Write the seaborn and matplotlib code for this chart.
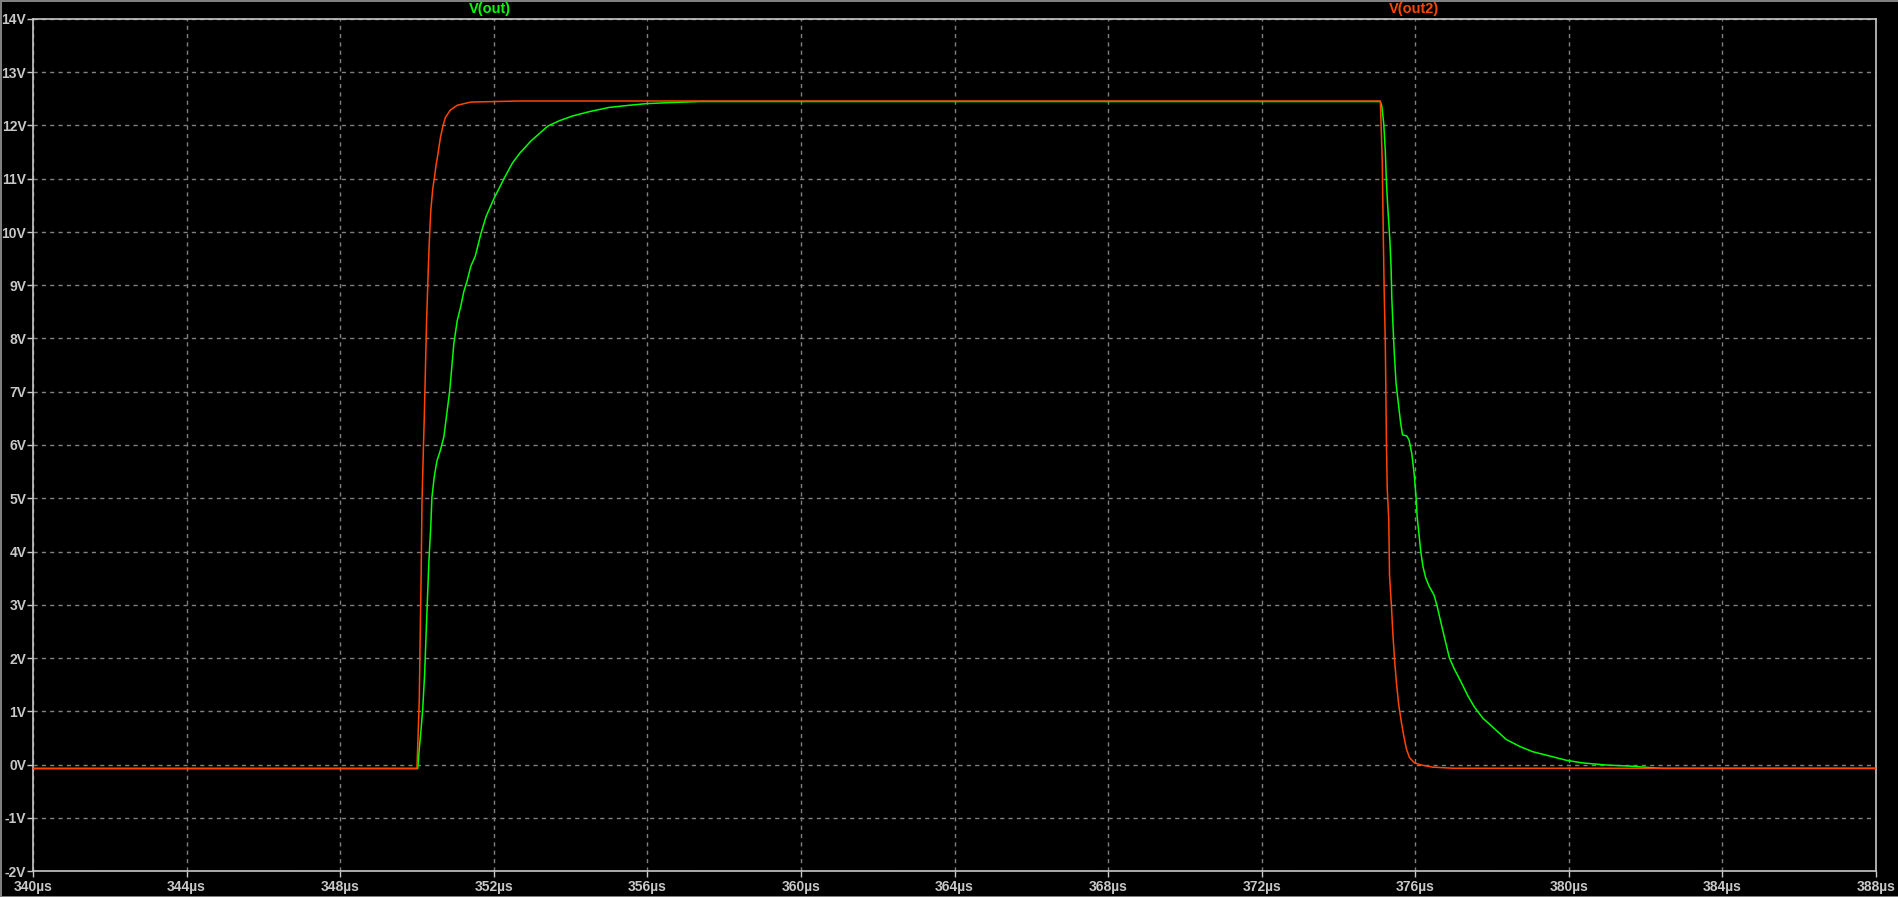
import matplotlib
matplotlib.use("Agg")
import matplotlib.pyplot as plt
import pandas as pd
import seaborn as sns

# V(out) - green trace (time in µs, volts)
out_t = [340.0, 350.02, 350.06, 350.10, 350.15, 350.20, 350.25, 350.31, 350.36, 350.39,
         350.45, 350.52, 350.61, 350.70, 350.79, 350.85, 350.90, 350.96, 351.05, 351.14,
         351.22, 351.31, 351.40, 351.52, 351.67, 351.80, 352.00, 352.28, 352.49, 352.69,
         352.97, 353.41, 353.71, 354.06, 354.49, 355.01, 355.53, 355.97, 356.58, 357.36,
         375.09, 375.13, 375.18, 375.22, 375.25, 375.28, 375.31, 375.34, 375.37, 375.39,
         375.42, 375.45, 375.50, 375.56, 375.62, 375.67, 375.78, 375.84, 375.91, 375.97,
         376.02, 376.05, 376.10, 376.14, 376.20, 376.27, 376.36, 376.49, 376.57, 376.68,
         376.79, 376.89, 377.02, 377.20, 377.37, 377.54, 377.76, 378.02, 378.37, 378.72,
         379.06, 379.50, 379.93, 380.36, 380.97, 381.58, 382.45, 388.0]
out_v = [-0.075, -0.075, 0.29, 0.60, 1.04, 1.70, 2.67, 3.80, 4.48, 5.02,
         5.40, 5.70, 5.90, 6.15, 6.66, 7.00, 7.40, 7.90, 8.34, 8.60,
         8.88, 9.09, 9.35, 9.55, 9.98, 10.29, 10.62, 11.02, 11.30, 11.49,
         11.71, 11.99, 12.09, 12.18, 12.26, 12.34, 12.38, 12.41, 12.43, 12.45,
         12.45, 12.36, 12.03, 11.52, 10.93, 10.52, 10.18, 9.84, 9.34, 8.75,
         8.25, 7.78, 7.16, 6.78, 6.41, 6.19, 6.17, 6.09, 5.84, 5.47,
         5.03, 4.65, 4.31, 4.02, 3.72, 3.51, 3.35, 3.18, 2.97, 2.63,
         2.30, 2.00, 1.79, 1.54, 1.29, 1.08, 0.87, 0.70, 0.47, 0.34,
         0.24, 0.16, 0.08, 0.03, -0.01, -0.03, -0.075, -0.075]

# V(out2) - orange trace
out2_t = [340.0, 350.00, 350.06, 350.09, 350.11, 350.13, 350.17, 350.19, 350.22, 350.25,
          350.29, 350.32, 350.36, 350.41, 350.46, 350.50, 350.55, 350.61, 350.68, 350.74,
          350.87, 351.05, 351.40, 352.66, 375.09, 375.11, 375.14, 375.17, 375.19, 375.22,
          375.25, 375.27, 375.31, 375.33, 375.38, 375.42, 375.47, 375.52, 375.57, 375.64,
          375.70, 375.77, 375.85, 375.98, 376.16, 376.46, 376.98, 388.0]
out2_v = [-0.075, -0.075, 1.2, 2.7, 3.6, 4.9, 6.0, 6.5, 7.4, 8.3,
          9.2, 9.8, 10.4, 10.8, 11.05, 11.27, 11.48, 11.77, 12.0, 12.15,
          12.29, 12.38, 12.44, 12.46, 12.46, 12.03, 11.35, 9.84, 8.92, 7.92,
          6.03, 5.19, 4.6, 3.56, 2.97, 2.42, 1.88, 1.46, 1.12, 0.79,
          0.54, 0.29, 0.13, 0.03, -0.01, -0.05, -0.07, -0.07]

x_ticks = list(range(340, 389, 4))
y_ticks = list(range(-2, 15))

GREEN = "#00ff00"
ORANGE = "#ff4500"
TEXT = "#c8c8c8"
GRID = "#808080"

sns.set_theme(style="dark", rc={
    "axes.facecolor": "black",
    "figure.facecolor": "black",
    "axes.edgecolor": TEXT,
    "xtick.color": TEXT,
    "ytick.color": TEXT,
    "axes.unicode_minus": False,
})
plt.rcParams["font.family"] = ["Liberation Sans", "DejaVu Sans"]

df_out = pd.DataFrame({"t": out_t, "v": out_v})
df_out2 = pd.DataFrame({"t": out2_t, "v": out2_v})

fig = plt.figure(figsize=(18.99, 8.97), dpi=100)
fig.patch.set_edgecolor("#808080")
fig.patch.set_linewidth(2)
ax = fig.add_axes([33 / 1899, 26 / 897, (1876 - 33) / 1899, (871 - 19) / 897])

sns.lineplot(data=df_out, x="t", y="v", ax=ax, color=GREEN, linewidth=1.1,
             sort=False, estimator=None, zorder=3)
sns.lineplot(data=df_out2, x="t", y="v", ax=ax, color=ORANGE, linewidth=1.1,
             sort=False, estimator=None, zorder=4)

ax.set_xlim(340, 388)
ax.set_ylim(-2, 14)
ax.set_xticks(x_ticks, [f"{t}µs" for t in x_ticks])
ax.set_yticks(y_ticks, [f"{v}V" for v in y_ticks])
ax.set_xlabel("")
ax.set_ylabel("")
ax.tick_params(axis="both", which="major", direction="out", length=4, width=1,
               labelsize=10, bottom=True, left=True, labelcolor=TEXT)
ax.tick_params(axis="y", pad=0.8)
ax.tick_params(axis="x", pad=2.5)
for lab in ax.get_xticklabels() + ax.get_yticklabels():
    lab.set_fontweight("bold")
ax.grid(True, color=GRID, linestyle=(0, (3, 3)), linewidth=1)
for s in ax.spines.values():
    s.set_color(TEXT)
    s.set_linewidth(1.2)

fig.text(490 / 1899, 1 - 9 / 897, "V(out)", color=GREEN, fontsize=10.5,
         fontweight="bold", ha="center", va="center")
fig.text(1414 / 1899, 1 - 9 / 897, "V(out2)", color=ORANGE, fontsize=10.5,
         fontweight="bold", ha="center", va="center")

fig.savefig("out.png", dpi=100, facecolor=fig.get_facecolor(), edgecolor=fig.patch.get_edgecolor())
